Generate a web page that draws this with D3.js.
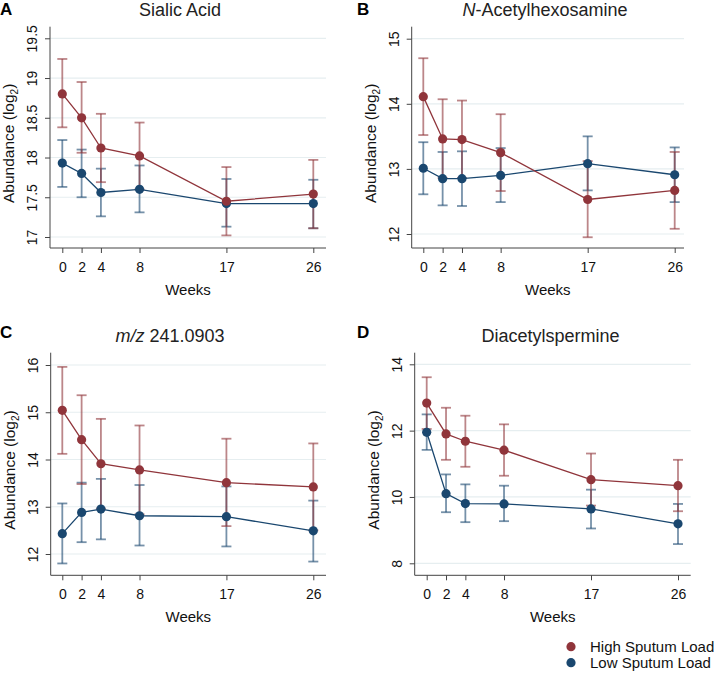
<!DOCTYPE html>
<html>
<head>
<meta charset="utf-8">
<script src="https://cdn.jsdelivr.net/npm/d3@7/dist/d3.min.js"></script>
<style>
html,body{margin:0;padding:0;background:#fff;}
svg{display:block;font-family:"Liberation Sans",Arial,Helvetica,sans-serif;}
</style>
</head>
<body>
<svg id="chart" width="718" height="674"></svg>
<script>
// ---------- DATA ----------
const weeks = [0, 2, 4, 8, 17, 26];
const seriesNames = ["High Sputum Load", "Low Sputum Load"];

// Panel A: Sialic Acid
const sialicHigh    = [18.80, 18.50, 18.12, 18.02, 17.45, 17.54];
const sialicHighLo  = [18.38, 18.06, 17.69, 17.60, 17.02, 17.11];
const sialicHighHi  = [19.24, 18.95, 18.55, 18.44, 17.88, 17.97];
const sialicLow     = [17.93, 17.80, 17.56, 17.60, 17.42, 17.42];
const sialicLowLo   = [17.63, 17.50, 17.26, 17.31, 17.13, 17.11];
const sialicLowHi   = [18.22, 18.10, 17.86, 17.90, 17.73, 17.72];
const sialicTicks   = [17, 17.5, 18, 18.5, 19, 19.5];

// Panel B: N-Acetylhexosamine
const hexHigh    = [14.11, 13.46, 13.45, 13.25, 12.53, 12.67];
const hexHighLo  = [13.52, 12.86, 12.86, 12.66, 11.95, 12.08];
const hexHighHi  = [14.70, 14.07, 14.05, 13.84, 13.12, 13.26];
const hexLow     = [13.01, 12.85, 12.85, 12.90, 13.08, 12.91];
const hexLowLo   = [12.61, 12.44, 12.43, 12.49, 12.67, 12.49];
const hexLowHi   = [13.41, 13.26, 13.27, 13.32, 13.50, 13.33];
const hexTicks   = [12, 13, 14, 15];

// Panel C: m/z 241.0903
const mzHigh    = [15.04, 14.42, 13.91, 13.78, 13.51, 13.42];
const mzHighLo  = [14.12, 13.48, 12.96, 12.84, 12.59, 12.50];
const mzHighHi  = [15.96, 15.36, 14.86, 14.72, 14.44, 14.34];
const mzLow     = [12.43, 12.88, 12.95, 12.81, 12.79, 12.49];
const mzLowLo   = [11.80, 12.25, 12.31, 12.18, 12.16, 11.84];
const mzLowHi   = [13.07, 13.51, 13.59, 13.46, 13.43, 13.13];
const mzTicks   = [12, 13, 14, 15, 16];

// Panel D: Diacetylspermine
const dasHigh    = [12.83, 11.90, 11.68, 11.41, 10.52, 10.34];
const dasHighLo  = [12.05, 11.12, 10.91, 10.64, 9.74, 9.57];
const dasHighHi  = [13.61, 12.69, 12.45, 12.19, 11.31, 11.12];
const dasLow     = [11.95, 10.10, 9.80, 9.79, 9.64, 9.19];
const dasLowLo   = [11.42, 9.54, 9.24, 9.27, 9.05, 8.58];
const dasLowHi   = [12.49, 10.68, 10.38, 10.34, 10.22, 9.79];
const dasTicks   = [8, 10, 12, 14];

// ---------- LAYOUT ----------
const colHigh = "#90353b";
const colLow  = "#1a476f";
const gridCol = "#e6eef0";
const axisCol = "#444";

const panels = [
  { letter:"A", title:[{t:"Sialic Acid"}], titleX:180, titleY:16, letterX:0, letterY:15,
    axX:50, axR:326, axTop:26.7, axBot:248, x0:62.3, x1:313.3,
    yDom:[17,19.5], yRng:[237,38.3], ticks:sialicTicks, fmt:d=>String(d),
    high:[sialicHigh,sialicHighLo,sialicHighHi], low:[sialicLow,sialicLowLo,sialicLowHi] },
  { letter:"B", title:[{t:"N",i:true},{t:"-Acetylhexosamine"}], titleX:545, titleY:16, letterX:357, letterY:15,
    axX:411.7, axR:684, axTop:26.7, axBot:248, x0:423.3, x1:674.7,
    yDom:[12,15], yRng:[234,38.7], ticks:hexTicks, fmt:d=>String(d),
    high:[hexHigh,hexHighLo,hexHighHi], low:[hexLow,hexLowLo,hexLowHi] },
  { letter:"C", title:[{t:"m/z",i:true},{t:" 241.0903"}], titleX:170, titleY:342, letterX:0, letterY:338,
    axX:50.7, axR:326, axTop:352.7, axBot:575.3, x0:62.3, x1:313.3,
    yDom:[12,16], yRng:[554,365], ticks:mzTicks, fmt:d=>String(d),
    high:[mzHigh,mzHighLo,mzHighHi], low:[mzLow,mzLowLo,mzLowHi] },
  { letter:"D", title:[{t:"Diacetylspermine"}], titleX:550.5, titleY:342, letterX:357, letterY:338,
    axX:414.7, axR:690.7, axTop:352.7, axBot:575.3, x0:426.7, x1:678,
    yDom:[8,14], yRng:[563.3,364.3], ticks:dasTicks, fmt:d=>String(d),
    high:[dasHigh,dasHighLo,dasHighHi], low:[dasLow,dasLowLo,dasLowHi] }
];

const svg = d3.select("#chart");

panels.forEach(p => {
  const g = svg.append("g");
  const x = d3.scaleLinear().domain([0, 26]).range([p.x0, p.x1]);
  const y = d3.scaleLinear().domain(p.yDom).range(p.yRng);

  // gridlines
  g.selectAll(".grid").data(p.ticks).join("line")
    .attr("x1", p.axX).attr("x2", p.axR)
    .attr("y1", d => y(d)).attr("y2", d => y(d))
    .attr("stroke", gridCol).attr("stroke-width", 1.2);

  // y axis
  const yAxis = d3.axisLeft(y).tickValues(p.ticks).tickSize(5).tickFormat(p.fmt);
  const ya = g.append("g").attr("transform", `translate(${p.axX},0)`).call(yAxis);
  ya.select(".domain").attr("d", `M0,${p.axTop}V${p.axBot}`).attr("stroke", axisCol);
  ya.selectAll(".tick line").attr("stroke", axisCol);
  ya.selectAll(".tick text")
    .attr("x", 0).attr("y", 0).attr("dy", null)
    .attr("transform", "translate(-13,0) rotate(-90)")
    .attr("text-anchor", "middle")
    .attr("font-size", 14).attr("fill", "#111")
    .attr("font-family", "Liberation Sans, Arial, sans-serif");

  // x axis
  const xAxis = d3.axisBottom(x).tickValues(weeks).tickSize(5).tickFormat(d => String(d));
  const xa = g.append("g").attr("transform", `translate(0,${p.axBot})`).call(xAxis);
  xa.select(".domain").attr("d", `M${p.axX},0H${p.axR}`).attr("stroke", axisCol);
  xa.selectAll(".tick line").attr("stroke", axisCol);
  xa.selectAll(".tick text").attr("y", 23.5).attr("dy", null)
    .attr("font-size", 14).attr("fill", "#111")
    .attr("font-family", "Liberation Sans, Arial, sans-serif");

  // axis titles
  g.append("text").attr("x", (p.axX + p.axR) / 2).attr("y", p.axBot + 47)
    .attr("text-anchor", "middle").attr("font-size", 15).attr("fill", "#111").text("Weeks");
  const yt = g.append("text")
    .attr("transform", `translate(${p.axX - 36},${(p.axTop + p.axBot) / 2 + 6}) rotate(-90)`)
    .attr("text-anchor", "middle").attr("font-size", 15.5).attr("fill", "#111");
  yt.append("tspan").text("Abundance (log");
  yt.append("tspan").attr("font-size", 10).attr("dy", 4).text("2");
  yt.append("tspan").attr("dy", -4).text(")");

  // title
  const tt = g.append("text").attr("x", p.titleX).attr("y", p.titleY)
    .attr("text-anchor", "middle").attr("font-size", 18).attr("fill", "#222");
  p.title.forEach(s => tt.append("tspan").attr("font-style", s.i ? "italic" : "normal").text(s.t));

  // panel letter
  g.append("text").attr("x", p.letterX).attr("y", p.letterY)
    .attr("font-size", 17).attr("font-weight", "bold").attr("fill", "#000").text(p.letter);

  const series = [
    { v: p.low,  c: colLow },
    { v: p.high, c: colHigh }
  ];
  const line = d3.line().x((d, i) => x(weeks[i])).y(d => y(d));

  // error bars
  series.forEach(s => {
    const [m, lo, hi] = s.v;
    const eg = g.append("g").attr("stroke", s.c).attr("stroke-width", 1.8).attr("stroke-opacity", 0.6);
    weeks.forEach((w, i) => {
      const cx = x(w);
      eg.append("line").attr("x1", cx).attr("x2", cx).attr("y1", y(lo[i])).attr("y2", y(hi[i]));
      eg.append("line").attr("x1", cx - 5).attr("x2", cx + 5).attr("y1", y(lo[i])).attr("y2", y(lo[i]));
      eg.append("line").attr("x1", cx - 5).attr("x2", cx + 5).attr("y1", y(hi[i])).attr("y2", y(hi[i]));
    });
  });
  // lines
  series.forEach(s => {
    g.append("path").datum(s.v[0]).attr("d", line)
      .attr("fill", "none").attr("stroke", s.c).attr("stroke-width", 1.3);
  });
  // markers
  series.forEach(s => {
    g.append("g").selectAll("circle").data(s.v[0]).join("circle")
      .attr("cx", (d, i) => x(weeks[i])).attr("cy", d => y(d)).attr("r", 4.6)
      .attr("fill", s.c);
  });
});

// legend
const legend = svg.append("g");
const legY = [646.7, 662.7];
[colHigh, colLow].forEach((c, i) => {
  legend.append("circle").attr("cx", 571).attr("cy", legY[i]).attr("r", 4.6).attr("fill", c);
  legend.append("text").attr("x", 590).attr("y", legY[i] + 5.3)
    .attr("font-size", 15).attr("fill", "#111").text(seriesNames[i]);
});
</script>
</body>
</html>
